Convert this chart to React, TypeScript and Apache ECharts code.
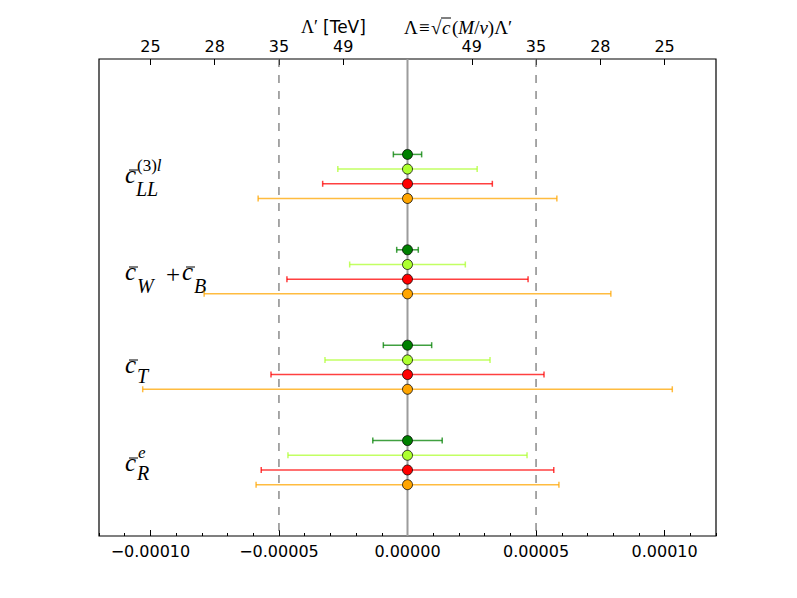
import React, { useEffect, useRef } from "react";
import * as echarts from "echarts";

// ---- data ----
const categories = ["c_LL^(3)l", "c_W + c_B", "c_T", "c_R^e"];
const seriesNames = ["green", "greenyellow", "red", "orange"];
const seriesColors = ["#008000", "#adff2f", "#ff0000", "#ffa500"];

const centralGreen = [0, 0, 0, 0];
const centralGreenYellow = [0, 0, 0, 0];
const centralRed = [0, 0, 0, 0];
const centralOrange = [0, 0, 0, 0];

const errGreen = [0.0000055, 0.0000042, 0.0000094, 0.0000135];
const errGreenYellow = [0.0000271, 0.0000225, 0.0000321, 0.0000465];
const errRed = [0.000033, 0.0000469, 0.0000531, 0.0000569];
const errOrange = [0.0000581, 0.0000791, 0.000103, 0.0000589];

const bottomTickValues = [-0.0001, -0.00005, 0, 0.00005, 0.0001];
const topTickValues = [-0.0001, -0.000075, -0.00005, -0.000025, 0, 0.000025, 0.00005, 0.000075, 0.0001];
const topTickLabels = ["25", "28", "35", "49", "", "49", "35", "28", "25"];
const refLineValues = [-0.00005, 0, 0.00005];
const xMin = -0.00012;
const xMax = 0.00012;

// category rows (layout on hidden y axis)
const groupPos = [1, 2, 3, 4];
const rowOffset = [0, 0.154, 0.308, 0.462];

const SCALE = 1e5;
const sc = (v: number) => Math.round(v * SCALE * 1e6) / 1e6;

const centrals = [centralGreen, centralGreenYellow, centralRed, centralOrange];
const errors = [errGreen, errGreenYellow, errRed, errOrange];

const MATH = '"Liberation Serif", "DejaVu Serif", serif';
const SANS = '"DejaVu Sans", sans-serif';

function txt(x: number, y: number, text: string, size: number, italic: boolean, extra: any = {}) {
  return {
    type: "text",
    x,
    y,
    style: {
      text,
      fontFamily: MATH,
      fontSize: size,
      fontStyle: italic ? "italic" : "normal",
      fill: "#000",
      verticalAlign: "middle",
      align: "left",
      ...extra,
    },
  };
}
function bar(x1: number, x2: number, y: number) {
  return { type: "line", shape: { x1, y1: y, x2, y2: y }, style: { stroke: "#000", lineWidth: 1 } };
}

export default function App() {
  const ref = useRef<HTMLDivElement>(null);
  useEffect(() => {
    if (!ref.current) return;
    const chart = echarts.init(ref.current, undefined, { renderer: "svg" });

    const bottomTicks = bottomTickValues.map(sc);
    const topTicks = topTickValues.map(sc);

    const fmtBottom = (v: number) => (v / SCALE).toFixed(5).replace("-", "\u2212");
    const fmtTop = (v: number) => {
      let best = 0;
      let bd = Infinity;
      topTicks.forEach((t, i) => {
        const d = Math.abs(t - v);
        if (d < bd) {
          bd = d;
          best = i;
        }
      });
      return topTickLabels[best];
    };

    const series: any[] = [];
    series.push({
      type: "custom",
      name: "ref",
      xAxisIndex: 0,
      z: 1,
      silent: true,
      data: refLineValues.map((v) => [sc(v), 0]),
      encode: { x: 0, y: 1 },
      renderItem: (params: any, api: any) => {
        const v = api.value(0);
        const p1 = api.coord([v, 0]);
        const p2 = api.coord([v, 5]);
        const isZero = Math.abs(v) < 1e-9;
        return {
          type: "line",
          shape: { x1: p1[0], y1: p1[1], x2: p2[0], y2: p2[1] },
          style: isZero
            ? { stroke: "#9c9c9c", lineWidth: 2 }
            : { stroke: "#6e6e6e", lineWidth: 1.2, lineDash: [8, 8] },
        };
      },
    });

    seriesNames.forEach((name, i) => {
      const color = seriesColors[i];
      const c = centrals[i];
      const e = errors[i];
      series.push({
        type: "custom",
        name: name + " err",
        xAxisIndex: 0,
        z: 2,
        silent: true,
        data: categories.map((_, g) => [sc(c[g] - e[g]), sc(c[g] + e[g]), groupPos[g] + rowOffset[i]]),
        encode: { x: [0, 1], y: 2 },
        renderItem: (params: any, api: any) => {
          const y = api.value(2);
          const lo = api.coord([api.value(0), y]);
          const hi = api.coord([api.value(1), y]);
          const st = { stroke: color, lineWidth: 1.5, opacity: 0.75 };
          const h = 3;
          return {
            type: "group",
            children: [
              { type: "line", shape: { x1: lo[0], y1: lo[1], x2: hi[0], y2: hi[1] }, style: st },
              { type: "line", shape: { x1: lo[0], y1: lo[1] - h, x2: lo[0], y2: lo[1] + h }, style: st },
              { type: "line", shape: { x1: hi[0], y1: hi[1] - h, x2: hi[0], y2: hi[1] + h }, style: st },
            ],
          };
        },
      });
      series.push({
        type: "scatter",
        name,
        xAxisIndex: 0,
        z: 3,
        symbol: "circle",
        symbolSize: 10,
        itemStyle: { color, borderColor: "rgba(0,0,0,0.75)", borderWidth: 1, opacity: 1 },
        data: categories.map((_, g) => [sc(c[g]), groupPos[g] + rowOffset[i]]),
      });
    });

    const graphic: any[] = [
      // top title
      txt(301, 27, "\u039b\u2032", 18, false),
      { type: "text", x: 323, y: 27, style: { text: "[TeV]", fontFamily: SANS, fontSize: 17, fill: "#000", verticalAlign: "middle" } },
      txt(404, 27, "\u039b", 19, false),
      txt(419, 27, "\u2261", 19, false),
      txt(431, 27, "\u221a", 19, false),
      bar(441, 451, 18),
      txt(442, 27, "c", 19, true),
      {
        type: "text",
        x: 452,
        y: 27,
        style: {
          text: "{u|(}{i|M}{u|/}{i|v}{u|)\u039b\u2032}",
          fill: "#000",
          verticalAlign: "middle",
          rich: {
            u: { fontFamily: MATH, fontSize: 19, fontStyle: "normal" },
            i: { fontFamily: MATH, fontSize: 19, fontStyle: "italic" },
          },
        },
      },
      // label 1: c_LL^(3)l
      txt(125, 174, "c", 25, true),
      bar(129, 138, 170),
      {
        type: "text",
        x: 137,
        y: 165,
        style: {
          text: "{a|(3)}{b|l}",
          fill: "#000",
          verticalAlign: "middle",
          rich: {
            a: { fontFamily: MATH, fontSize: 17, fontStyle: "normal" },
            b: { fontFamily: MATH, fontSize: 17, fontStyle: "italic" },
          },
        },
      },
      txt(136, 189, "LL", 20, true),
      // label 2: c_W + c_B
      txt(125, 271, "c", 25, true),
      bar(129, 138, 267),
      txt(137, 286, "W", 20, true),
      txt(166, 274, "+", 25, false),
      txt(182, 271, "c", 25, true),
      bar(186, 195, 267),
      txt(194, 286, "B", 20, true),
      // label 3: c_T
      txt(125, 364, "c", 25, true),
      bar(129, 138, 360),
      txt(137, 376, "T", 20, true),
      // label 4: c_R^e
      txt(125, 462, "c", 25, true),
      bar(129, 138, 458),
      txt(138, 452, "e", 17, true),
      txt(137, 473, "R", 20, true),
    ];

    const option: any = {
      animation: false,
      backgroundColor: "#fff",
      grid: {
        left: 99,
        right: 81,
        top: 59,
        bottom: 62,
        show: true,
        borderColor: "#000",
        borderWidth: 1.2,
        backgroundColor: "transparent",
        containLabel: false,
        outerBoundsMode: "none",
      },
      xAxis: [
        {
          type: "value",
          position: "bottom",
          min: sc(xMin),
          max: sc(xMax),
          axisLine: { show: false, onZero: false },
          splitLine: { show: false },
          axisTick: { show: true, inside: true, length: 6, customValues: bottomTicks, lineStyle: { color: "#000", width: 1 } },
          axisLabel: {
            show: true,
            customValues: bottomTicks,
            formatter: fmtBottom,
            fontFamily: SANS,
            fontSize: 16,
            color: "#000",
            margin: 7,
          },
        },
        {
          type: "value",
          position: "top",
          min: sc(xMin),
          max: sc(xMax),
          axisLine: { show: false, onZero: false },
          splitLine: { show: false },
          axisTick: { show: true, inside: true, length: 6, customValues: topTicks, lineStyle: { color: "#000", width: 1 } },
          axisLabel: {
            show: true,
            customValues: topTicks,
            formatter: fmtTop,
            fontFamily: SANS,
            fontSize: 16,
            color: "#000",
            margin: 5,
          },
        },
        {
          type: "value",
          position: "bottom",
          min: sc(xMin),
          max: sc(xMax),
          interval: 1,
          axisLine: { show: false, onZero: false },
          splitLine: { show: false },
          axisTick: { show: true, inside: true, length: 3, lineStyle: { color: "#000", width: 1 } },
          axisLabel: { show: false },
        },
      ],
      yAxis: { type: "value", min: 0, max: 5, inverse: true, show: false, splitLine: { show: false } },
      graphic,
      series,
    };
    chart.setOption(option);
    return () => chart.dispose();
  }, []);
  return (
    <div
      ref={ref}
      style={{ position: "fixed", left: 0, top: 0, width: 797, height: 598, background: "#fff" }}
    />
  );
}
